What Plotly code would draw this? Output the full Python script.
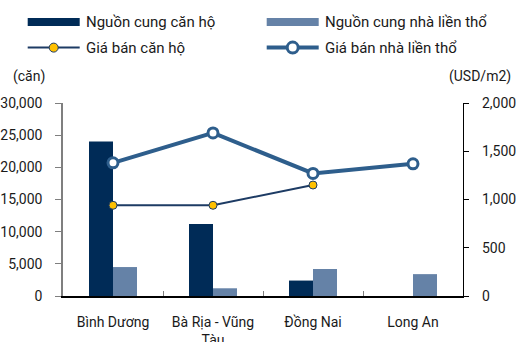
import plotly.graph_objects as go

# Supply (units) and selling price (USD/m2) by province
provinces = ["Bình Dương", "Bà Rịa - Vũng<br>Tàu", "Đồng Nai", "Long An"]
apartment_supply = [24000, 11200, 2400, None]
townhouse_supply = [4500, 1200, 4200, 3400]
apartment_price = [940, 940, 1150, None]
townhouse_price = [1380, 1690, 1270, 1370]

left_ticks = [0, 5000, 10000, 15000, 20000, 25000, 30000]
right_ticks = [0, 500, 1000, 1500, 2000]

NAVY = "#002B57"
STEEL = "#6582A7"
LINE_DARK = "#1D3B64"
LINE_BLUE = "#2E5E8C"
GOLD = "#FFC000"
TEXT = "#1A1A1A"
FONT = "Roboto"

W, H = 516, 342
L, R, T, B = 63.3, 52.7, 103.3, 46

fig = go.Figure()
fig.add_trace(go.Bar(x=provinces, y=apartment_supply, name="Nguồn cung căn hộ",
                     marker=dict(color=NAVY, line=dict(width=0))))
fig.add_trace(go.Bar(x=provinces, y=townhouse_supply, name="Nguồn cung nhà liền thổ",
                     marker=dict(color=STEEL, line=dict(width=0))))
fig.add_trace(go.Scatter(x=provinces, y=apartment_price, yaxis="y2", mode="lines+markers",
                         name="Giá bán căn hộ",
                         line=dict(color=LINE_DARK, width=2),
                         marker=dict(size=8, color=GOLD, line=dict(color=LINE_DARK, width=1))))
fig.add_trace(go.Scatter(x=provinces, y=townhouse_price, yaxis="y2", mode="lines+markers",
                         name="Giá bán nhà liền thổ",
                         line=dict(color=LINE_BLUE, width=4),
                         marker=dict(size=10, color="white", line=dict(color=LINE_BLUE, width=3))))


def px_x(p):
    return (p - L) / (W - L - R)


def px_y(p):
    return (H - B - p) / (H - T - B)


shapes = []
annotations = []

# Hand-built legend: two columns, bars on the first row, lines on the second
col_x = [28, 267]
row_y = [22.5, 48]
entries = [
    ("bar", NAVY, "Nguồn cung căn hộ", 0, 0),
    ("bar", STEEL, "Nguồn cung nhà liền thổ", 1, 0),
    ("apt", None, "Giá bán căn hộ", 0, 1),
    ("house", None, "Giá bán nhà liền thổ", 1, 1),
]
for kind, color, label, c, r in entries:
    x0 = col_x[c]
    x1 = x0 + 52
    yc = row_y[r]
    if kind == "bar":
        shapes.append(dict(type="rect", xref="paper", yref="paper",
                           x0=px_x(x0), x1=px_x(x1), y0=px_y(yc + 4), y1=px_y(yc - 4),
                           fillcolor=color, line=dict(width=0)))
    elif kind == "apt":
        shapes.append(dict(type="line", xref="paper", yref="paper",
                           x0=px_x(x0), x1=px_x(x1), y0=px_y(yc), y1=px_y(yc),
                           line=dict(color=LINE_DARK, width=2)))
        shapes.append(dict(type="circle", xref="paper", yref="paper",
                           xsizemode="pixel", ysizemode="pixel",
                           xanchor=px_x((x0 + x1) / 2), yanchor=px_y(yc),
                           x0=-4.5, x1=4.5, y0=-4.5, y1=4.5,
                           fillcolor=GOLD, line=dict(color=LINE_DARK, width=1)))
    else:
        shapes.append(dict(type="line", xref="paper", yref="paper",
                           x0=px_x(x0), x1=px_x(x1), y0=px_y(yc), y1=px_y(yc),
                           line=dict(color=LINE_BLUE, width=4)))
        shapes.append(dict(type="circle", xref="paper", yref="paper",
                           xsizemode="pixel", ysizemode="pixel",
                           xanchor=px_x((x0 + x1) / 2), yanchor=px_y(yc),
                           x0=-5.5, x1=5.5, y0=-5.5, y1=5.5,
                           fillcolor="white", line=dict(color=LINE_BLUE, width=3)))
    annotations.append(dict(xref="paper", yref="paper", x=px_x(x1 + 4), y=px_y(yc),
                            xanchor="left", yanchor="middle", showarrow=False,
                            text=label, font=dict(family=FONT, size=15, color=TEXT)))

# Unit captions above each value axis
annotations.append(dict(xref="paper", yref="paper", x=px_x(11), y=px_y(77),
                        xanchor="left", yanchor="middle", showarrow=False,
                        text="(căn)", font=dict(family=FONT, size=14, color=TEXT)))
annotations.append(dict(xref="paper", yref="paper", x=px_x(513), y=px_y(77),
                        xanchor="right", yanchor="middle", showarrow=False,
                        text="(USD/m2)", font=dict(family=FONT, size=14, color=TEXT)))

fig.update_layout(
    width=W, height=H,
    margin=dict(l=L, r=R, t=T, b=B, pad=0, autoexpand=False),
    paper_bgcolor="white", plot_bgcolor="white",
    barmode="group", bargap=0.52, bargroupgap=0,
    showlegend=False,
    font=dict(family=FONT, size=14, color=TEXT),
    shapes=shapes, annotations=annotations,
    xaxis=dict(showgrid=False, showline=True, linecolor="#000000", linewidth=1.5,
               ticks="inside", ticklen=5, tickcolor="#7F7F7F", tickson="boundaries",
               tickangle=0, automargin=False,
               ticklabelstandoff=12, tickfont=dict(family=FONT, size=14, color=TEXT),
               fixedrange=True),
    yaxis=dict(range=[0, 30000], tickvals=left_ticks, tickformat=",d", automargin=False,
               showgrid=False, zeroline=False, showline=True, linecolor="#7F7F7F",
               linewidth=1.5, ticks="outside", ticklen=6, tickcolor="#7F7F7F",
               ticklabelstandoff=10, tickfont=dict(family=FONT, size=14, color=TEXT)),
    yaxis2=dict(range=[0, 2000], tickvals=right_ticks, tickformat=",d", automargin=False,
                overlaying="y", side="right", showgrid=False, zeroline=False,
                showline=True, linecolor="#000000", linewidth=1.2,
                ticks="outside", ticklen=5, tickcolor="#000000",
                ticklabelstandoff=10, tickfont=dict(family=FONT, size=14, color=TEXT)),
)

fig.write_html("out.html")
